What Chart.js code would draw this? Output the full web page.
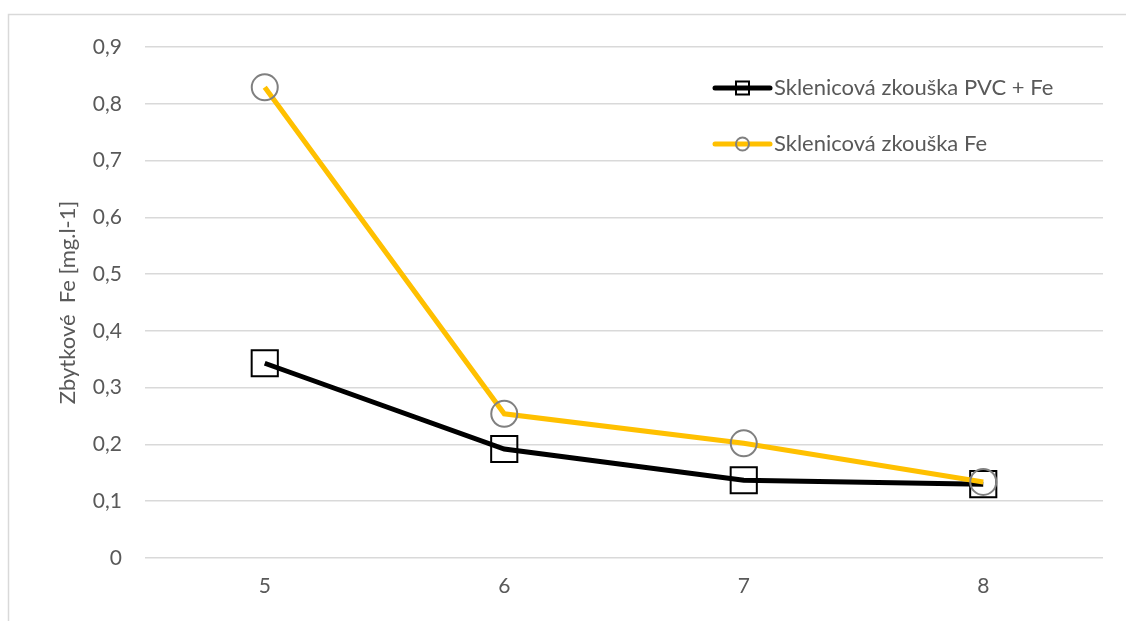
<!DOCTYPE html>
<html>
<head>
<meta charset="utf-8">
<script src="https://cdn.jsdelivr.net/npm/chart.js@4/dist/chart.umd.min.js"></script>
<style>
  html, body { margin: 0; padding: 0; background: #ffffff; }
  #wrap { position: relative; width: 1126px; height: 621px; }
</style>
</head>
<body>
<div id="wrap"><canvas id="chart" width="1126" height="621"></canvas></div>
<script>
// Categories on the x axis
const categories = ['5', '6', '7', '8'];

// Residual iron values [mg/l]
const pvcFeValues = [0.343, 0.192, 0.137, 0.130];
const feValues = [0.829, 0.254, 0.202, 0.134];

// Series names
const seriesNames = ['Sklenicová zkouška PVC + Fe', 'Sklenicová zkouška Fe'];

// Y axis tick labels (decimal comma)
const yTickValues = [0, 0.1, 0.2, 0.3, 0.4, 0.5, 0.6, 0.7, 0.8, 0.9];
const yTickLabels = ['0', '0,1', '0,2', '0,3', '0,4', '0,5', '0,6', '0,7', '0,8', '0,9'];

const yTitle = 'Zbytkové  Fe [mg.l-1]';

const FONT = 'Lato, "Open Sans", sans-serif';
const TEXT = '#595959';
const GRID = '#d9d9d9';

// Light frame around the whole chart
const framePlugin = {
  id: 'frame',
  beforeDraw(chart) {
    const ctx = chart.ctx;
    ctx.save();
    ctx.fillStyle = '#ffffff';
    ctx.fillRect(0, 0, chart.width, chart.height);
    ctx.strokeStyle = GRID;
    ctx.lineWidth = 1.5;
    ctx.strokeRect(8.5, 14.5, chart.width + 20, chart.height + 20);
    ctx.restore();
  }
};

// Vertical legend inside the plot area, with line + marker samples
const legendPlugin = {
  id: 'insideLegend',
  afterDraw(chart) {
    const ctx = chart.ctx;
    const area = chart.chartArea;
    const x0 = area.right - 388;
    const lineLen = 55;
    ctx.save();
    chart.data.datasets.forEach((ds, i) => {
      const y = area.top + 41 + i * 56;
      ctx.strokeStyle = ds.borderColor;
      ctx.lineWidth = ds.borderWidth;
      ctx.lineCap = 'round';
      ctx.beginPath();
      ctx.moveTo(x0, y);
      ctx.lineTo(x0 + lineLen, y);
      ctx.stroke();
      const cx = x0 + lineLen / 2;
      ctx.lineWidth = ds.pointBorderWidth;
      ctx.strokeStyle = ds.pointBorderColor;
      ctx.beginPath();
      if (ds.pointStyle === 'rect') {
        ctx.rect(cx - 6.5, y - 6.5, 13, 13);
      } else {
        ctx.arc(cx, y, 6.5, 0, Math.PI * 2);
      }
      ctx.stroke();
      ctx.fillStyle = TEXT;
      ctx.font = '22px ' + FONT;
      ctx.textBaseline = 'middle';
      ctx.textAlign = 'left';
      ctx.fillText(ds.label, x0 + lineLen + 4, y);
    });
    ctx.restore();
  }
};

new Chart(document.getElementById('chart'), {
  type: 'line',
  data: {
    labels: categories,
    datasets: [
      {
        label: seriesNames[0],
        data: pvcFeValues,
        borderColor: '#000000',
        borderWidth: 5,
        pointStyle: 'rect',
        pointRadius: 18.5,
        pointHoverRadius: 18.5,
        pointBorderColor: '#000000',
        pointBorderWidth: 2,
        pointBackgroundColor: 'rgba(0,0,0,0)',
        tension: 0,
        order: 1
      },
      {
        label: seriesNames[1],
        data: feValues,
        borderColor: '#FFC000',
        borderWidth: 5,
        pointStyle: 'circle',
        pointRadius: 13,
        pointHoverRadius: 13,
        pointBorderColor: '#808080',
        pointBorderWidth: 2,
        pointBackgroundColor: 'rgba(0,0,0,0)',
        tension: 0,
        order: 0
      }
    ]
  },
  options: {
    responsive: false,
    animation: false,
    layout: { padding: { left: 0, top: 47, right: 23, bottom: 0 } },
    plugins: {
      legend: { display: false },
      tooltip: { enabled: false }
    },
    scales: {
      x: {
        offset: true,
        grid: { display: false, drawTicks: false },
        border: { display: false },
        ticks: {
          color: TEXT,
          font: { family: FONT, size: 21 },
          padding: 16
        },
        afterFit(s) { s.height = 63; }
      },
      y: {
        min: 0,
        max: 0.9,
        afterBuildTicks(s) { s.ticks = yTickValues.map(v => ({ value: v })); },
        grid: { color: GRID, lineWidth: 1.5, drawTicks: false },
        border: { display: false },
        ticks: {
          color: TEXT,
          font: { family: FONT, size: 21 },
          padding: 23,
          callback(value) {
            const idx = yTickValues.findIndex(v => Math.abs(v - value) < 1e-9);
            return idx >= 0 ? yTickLabels[idx] : '';
          }
        },
        title: {
          display: true,
          text: yTitle,
          color: TEXT,
          font: { family: FONT, size: 22 },
          padding: { top: 55, bottom: 0 }
        },
        afterFit(s) { s.width = 145; }
      }
    }
  },
  plugins: [framePlugin, legendPlugin]
});
</script>
</body>
</html>
